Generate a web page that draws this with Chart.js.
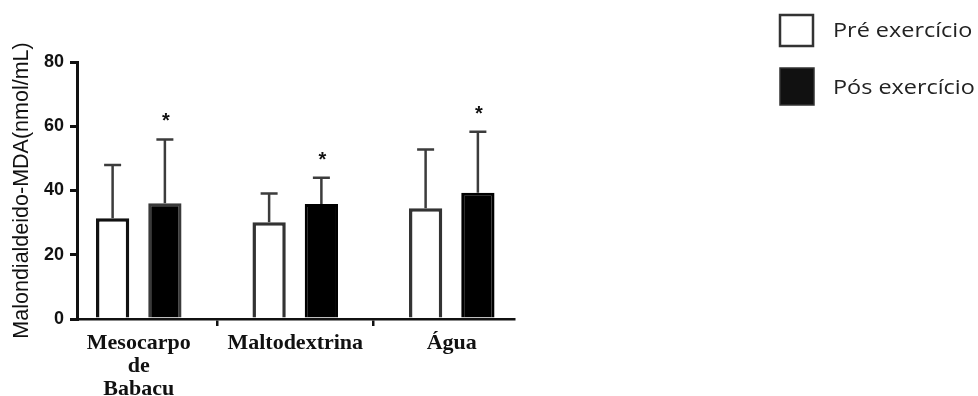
<!DOCTYPE html>
<html>
<head>
<meta charset="utf-8">
<script src="https://cdn.jsdelivr.net/npm/chart.js@4.4.1/dist/chart.umd.min.js"></script>
<style>
  body { margin: 0; background: #fff; }
  canvas { display: block; }
</style>
</head>
<body>
<canvas id="mdaChart" width="978" height="396"></canvas>
<script>
// categories on the x axis (first one wraps on three lines)
const categories = [['Mesocarpo', 'de', 'Babacu'], 'Maltodextrina', 'Água'];

// series labels
const seriesNames = ['Pré exercício', 'Pós exercício'];

// mean values (nmol/mL)
const preMean = [31.4, 30.1, 34.5];
const postMean = [36.0, 35.8, 39.3];

// upward error bars (SD)
const preSD = [16.5, 9.0, 18.3];
const postSD = [19.9, 8.2, 19.0];

// significance marks over the post bars
const postStars = ['*', '*', '*'];

// y axis ticks
const yTicks = [0, 20, 40, 60, 80];

// the category band runs a bit past the drawn x axis on both ends
const bandOverhang = { left: 16.5, right: 16 };

// shift the x scale's pixel range after layout (axis line stays where it is)
const bandPlugin = {
  id: 'bandPlugin',
  afterLayout(chart) {
    const xs = chart.scales.x;
    xs._startPixel = xs.left - bandOverhang.left;
    xs._length = xs.right + bandOverhang.right - xs._startPixel;
  }
};

// error bars + stars, drawn from the data through the scales
const errorBarPlugin = {
  id: 'errorBars',
  afterDatasetsDraw(chart) {
    const ctx = chart.ctx;
    const ys = chart.scales.y;
    const sds = [preSD, postSD];
    chart.data.datasets.forEach((ds, di) => {
      const meta = chart.getDatasetMeta(di);
      meta.data.forEach((bar, i) => {
        const x = bar.x;
        const yTop = ys.getPixelForValue(ds.data[i]);
        const yErr = ys.getPixelForValue(ds.data[i] + sds[di][i]);
        ctx.save();
        ctx.strokeStyle = '#3c3c3c';
        ctx.lineWidth = 2.5;
        ctx.beginPath();
        ctx.moveTo(x, yTop);
        ctx.lineTo(x, yErr);
        ctx.moveTo(x - 8.5, yErr);
        ctx.lineTo(x + 8.5, yErr);
        ctx.stroke();
        if (di === 1 && postStars[i]) {
          ctx.fillStyle = '#111';
          ctx.font = 'bold 20px "Liberation Sans", Arial, sans-serif';
          ctx.textAlign = 'center';
          ctx.textBaseline = 'alphabetic';
          ctx.fillText(postStars[i], x + 1, yErr - 12);
        }
        ctx.restore();
      });
    });
  }
};

// legend at the top right (text a little stretched, like the original)
const legendPlugin = {
  id: 'sideLegend',
  afterDraw(chart) {
    const ctx = chart.ctx;
    const items = [
      { top: 15, w: 33, h: 31, text: 31 },
      { top: 68, w: 34, h: 37, text: 88 }
    ];
    chart.data.datasets.forEach((ds, i) => {
      const it = items[i];
      ctx.save();
      ctx.fillStyle = i === 0 ? '#fff' : '#111';
      ctx.fillRect(780, it.top, it.w, it.h);
      ctx.strokeStyle = '#333';
      ctx.lineWidth = i === 0 ? 2.5 : 1.5;
      ctx.strokeRect(780, it.top, it.w, it.h);
      ctx.translate(833, it.text);
      ctx.scale(1.2, 1);
      ctx.fillStyle = '#222';
      ctx.font = '19.5px "Open Sans", sans-serif';
      ctx.textAlign = 'left';
      ctx.textBaseline = 'middle';
      ctx.fillText(ds.label, 0, 0);
      ctx.restore();
    });
  }
};

const ctx = document.getElementById('mdaChart');

const chart = new Chart(ctx, {
  type: 'bar',
  data: {
    labels: categories,
    datasets: [
      {
        label: seriesNames[0],
        data: preMean,
        backgroundColor: '#ffffff',
        borderColor: ['#111', '#333', '#333'],
        borderWidth: 3.5
      },
      {
        label: seriesNames[1],
        data: postMean,
        backgroundColor: '#000000',
        borderColor: ['#3a3a3a', '#000', '#000'],
        borderWidth: 3
      }
    ]
  },
  plugins: [bandPlugin, errorBarPlugin, legendPlugin],
  options: {
    responsive: false,
    animation: false,
    categoryPercentage: 0.668,
    barPercentage: 0.637,
    layout: {
      padding: { left: 0, top: 62, right: 464, bottom: 0 }
    },
    plugins: {
      legend: { display: false },
      tooltip: { enabled: false }
    },
    scales: {
      x: {
        offset: true,
        afterFit(scale) { scale.height = 77; },
        border: { display: true, color: '#111', width: 2.5 },
        grid: {
          offset: true,
          drawOnChartArea: false,
          drawTicks: true,
          tickLength: 7,
          lineWidth: 2.5,
          color: (c) => (c.index === 1 || c.index === 2) ? '#111' : 'rgba(0,0,0,0)'
        },
        ticks: {
          autoSkip: false,
          maxRotation: 0,
          padding: 6,
          color: '#111',
          font: { family: '"Liberation Serif", "Times New Roman", serif', size: 22, weight: 'bold', lineHeight: 1.05 }
        }
      },
      y: {
        min: 0,
        max: 80,
        afterFit(scale) { scale.width = 77; },
        afterBuildTicks(scale) { scale.ticks = yTicks.map(v => ({ value: v })); },
        border: { display: true, color: '#111', width: 3 },
        grid: {
          drawOnChartArea: false,
          drawTicks: true,
          tickLength: 7,
          lineWidth: 3,
          color: '#111'
        },
        ticks: {
          padding: 6,
          color: '#111',
          font: { family: '"Liberation Sans", Arial, sans-serif', size: 18, weight: 'bold' }
        },
        title: {
          display: true,
          text: 'Malondialdeido-MDA(nmol/mL)',
          color: '#111',
          padding: { top: 9, bottom: 0 },
          font: { family: '"Liberation Sans", Arial, sans-serif', size: 21.5 }
        }
      }
    }
  }
});
</script>
</body>
</html>
